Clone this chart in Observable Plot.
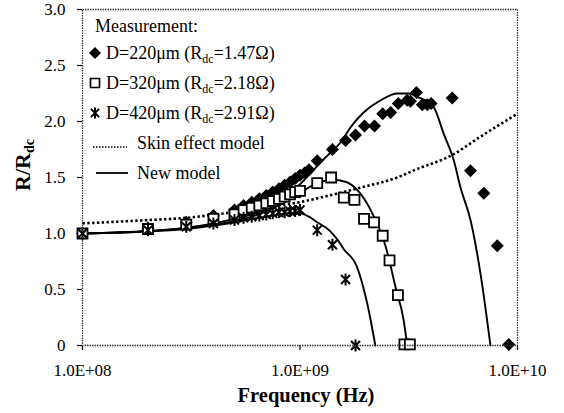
<!DOCTYPE html>
<html><head><meta charset="utf-8">
<script src="https://cdn.jsdelivr.net/npm/d3@7"></script>
<script src="https://cdn.jsdelivr.net/npm/@observablehq/plot@0.6"></script>
<style>
body{margin:0;background:#fff;}
#wrap{position:relative;width:564px;height:413px;}
</style></head><body><div id="wrap"></div>
<script>
// ---- Measurement data ----
const f220 = [1e8,2e8,3e8,4e8,5e8,5.5e8,6e8,6.5e8,7e8,7.5e8,8e8,8.5e8,9e8,9.5e8,1e9,1.05e9,1.1e9,1.2e9,1.41e9,1.62e9,1.8e9,1.98e9,2.2e9,2.4e9,2.61e9,2.83e9,3.11e9,3.22e9,3.43e9,3.65e9,3.85e9,4.01e9,5.01e9,6.08e9,7.0e9,8.07e9,9.12e9];
const r220 = [1.00,1.05,1.10,1.16,1.21,1.25,1.28,1.31,1.34,1.37,1.40,1.43,1.46,1.49,1.52,1.54,1.57,1.65,1.75,1.83,1.88,1.96,1.96,2.07,2.08,2.16,2.19,2.18,2.26,2.15,2.15,2.16,2.21,1.56,1.36,0.89,0.01];
const f320 = [1e8,2e8,3e8,4e8,5e8,5.5e8,6e8,6.5e8,7e8,7.5e8,8e8,8.5e8,9e8,9.5e8,1e9,1.2e9,1.39e9,1.59e9,1.78e9,1.97e9,2.19e9,2.4e9,2.58e9,2.82e9,3.02e9,3.2e9];
const r320 = [1.00,1.04,1.08,1.13,1.17,1.21,1.23,1.25,1.27,1.29,1.31,1.33,1.35,1.37,1.38,1.45,1.50,1.32,1.30,1.13,1.10,0.98,0.76,0.45,0.01,0.01];
const f420 = [1e8,2e8,3e8,4e8,5e8,5.5e8,6e8,6.5e8,7e8,7.5e8,8e8,8.5e8,9e8,9.5e8,1e9,1.2e9,1.41e9,1.62e9,1.8e9];
const r420 = [1.00,1.03,1.06,1.09,1.12,1.14,1.15,1.16,1.17,1.18,1.19,1.19,1.20,1.20,1.21,1.03,0.90,0.59,0.00];
// ---- Model curves ----
const fm220 = [1e8,2e8,3e8,4e8,5e8,6e8,7e8,8e8,9e8,1e9,1.12e9,1.28e9,1.56e9,1.71e9,1.96e9,2.35e9,2.8e9,3.16e9,3.46e9,4.11e9,4.58e9,5.1e9,5.47e9,6.08e9,6.76e9,7.51e9];
const rm220 = [1.00,1.02,1.05,1.09,1.13,1.17,1.22,1.29,1.37,1.44,1.54,1.66,1.83,1.95,2.08,2.19,2.25,2.25,2.22,2.13,1.89,1.65,1.41,1.12,0.64,0.00];
const fm320 = [1e8,2e8,3e8,4e8,5e8,6e8,7e8,8e8,9e8,1e9,1.12e9,1.25e9,1.4e9,1.63e9,1.85e9,2.15e9,2.48e9,2.75e9,3.0e9,3.11e9];
const rm320 = [1.00,1.02,1.05,1.08,1.11,1.15,1.20,1.25,1.31,1.36,1.42,1.46,1.48,1.46,1.38,1.18,0.88,0.52,0.22,0.00];
const fm420 = [1e8,2e8,3e8,4e8,5e8,6e8,7e8,8e8,9e8,1e9,1.1e9,1.2e9,1.36e9,1.48e9,1.59e9,1.83e9,2.04e9,2.22e9];
const rm420 = [1.00,1.02,1.04,1.07,1.10,1.13,1.15,1.17,1.18,1.18,1.15,1.10,1.03,0.95,0.86,0.70,0.37,0.00];
const fSkin = [1e8,2e8,3e8,4.5e8,6.5e8,8e8,1e9,1.3e9,1.9e9,2.8e9,3.4e9,5e9,6.7e9,1e10];
const rSkin = [1.09,1.12,1.14,1.18,1.22,1.25,1.28,1.33,1.41,1.50,1.57,1.70,1.86,2.07];
// ---- Ticks & labels ----
const xTicks = [1e8,1e9,1e10];
const yTicks = [0,0.5,1,1.5,2,2.5,3];
const legendLabels = [
  ["D=220μm (R","dc","=1.47Ω)"],
  ["D=320μm (R","dc","=2.18Ω)"],
  ["D=420μm (R","dc","=2.91Ω)"]
];
const lineLabels = ["Skin effect model","New model"];

const zip = (fs, rs, s) => fs.map((f,i)=>({f, r: rs[i], s}));
const d220 = zip(f220, r220), d320 = zip(f320, r320), d420 = zip(f420, r420);
const models = [...zip(fm220, rm220, "220"), ...zip(fm320, rm320, "320"), ...zip(fm420, rm420, "420")];
const skin = zip(fSkin, rSkin);

const rad = size => Math.sqrt(size/Math.PI);
const diamond = {draw(c, size){const r=rad(size); c.moveTo(0,-r); c.lineTo(r,0); c.lineTo(0,r); c.lineTo(-r,0); c.closePath();}};
const square = {draw(c, size){const r=rad(size); c.rect(-r,-r,2*r,2*r);}};
const star = {draw(c, size){const r=rad(size), a=r*0.75; c.moveTo(0,-r); c.lineTo(0,r); c.moveTo(-a,-a); c.lineTo(a,a); c.moveTo(-a,a); c.lineTo(a,-a);}};

const FONT = "'Liberation Serif','Times New Roman',serif";
const chart = Plot.plot({
  width: 564, height: 413,
  marginLeft: 82, marginRight: 47, marginTop: 9, marginBottom: 68,
  x: {type: "log", domain: [1e8, 1e10]},
  y: {domain: [0, 3]},
  style: {fontFamily: FONT, fontSize: "17px", color: "#000", background: "#fff"},
  marks: [
    Plot.axisY({ticks: yTicks, tickFormat: d => d === 0 ? "0" : d.toFixed(1), tickSize: 5, tickPadding: 12, label: null, strokeWidth: 1.2}),
    Plot.axisX({ticks: xTicks, tickFormat: d => "1.0E+" + String(Math.round(Math.log10(d))).padStart(2, "0"), tickSize: 5, tickPadding: 13, label: null, strokeWidth: 1.2}),
    Plot.line(skin, {x: "f", y: "r", stroke: "#000", strokeWidth: 2.6, strokeDasharray: "2.4,2.4", strokeLinecap: "butt", curve: "monotone-x"}),
    Plot.line(models, {x: "f", y: "r", z: "s", stroke: "#000", strokeWidth: 1.9, curve: "monotone-x"}),
    Plot.dot(d220, {x: "f", y: "r", symbol: diamond, r: 6.5, fill: "#000", stroke: "none"}),
    Plot.dot(d320, {x: "f", y: "r", symbol: square, r: 5, fill: "#fff", stroke: "#000", strokeWidth: 1.8}),
    Plot.dot(d420, {x: "f", y: "r", symbol: star, r: 6, fill: "none", stroke: "#000", strokeWidth: 2}),
    Plot.frame({stroke: "#333", strokeWidth: 1.3, strokeDasharray: "1.5,1"})
  ]
});
document.getElementById("wrap").appendChild(chart);

const svg = d3.select(chart);
// axis titles
const yt = svg.append("text").attr("transform", "translate(30,165) rotate(-90)")
  .attr("text-anchor", "middle").attr("font-family", FONT).attr("font-weight", "bold").attr("font-size", 22).attr("fill", "#000");
yt.append("tspan").text("R/R");
yt.append("tspan").attr("font-size", 14).attr("dy", 4).text("dc");
svg.append("text").attr("x", 306).attr("y", 402).attr("text-anchor", "middle")
  .attr("font-family", FONT).attr("font-weight", "bold").attr("font-size", 20.5).attr("fill", "#000").text("Frequency (Hz)");

// legend
const lg = svg.append("g").attr("font-family", FONT).attr("font-size", 18).attr("fill", "#000").attr("text-anchor", "start");
lg.append("text").attr("x", 95).attr("y", 32).text("Measurement:");
const syms = [[diamond, 6, "#000", "none", 0], [square, 4.5, "#fff", "#000", 1.7], [star, 5.5, "none", "#000", 2]];
const rowsY = [53, 83, 113];
legendLabels.forEach((parts, i) => {
  const [sym, r, fill, stroke, sw] = syms[i];
  lg.append("path").attr("transform", `translate(95,${rowsY[i]})`)
    .attr("d", d3.symbol().type(sym).size(Math.PI * r * r)()).attr("fill", fill).attr("stroke", stroke).attr("stroke-width", sw);
  const t = lg.append("text").attr("x", 106).attr("y", rowsY[i] + 6);
  t.append("tspan").text(parts[0]);
  t.append("tspan").attr("font-size", 12).attr("dy", 4).text(parts[1]);
  t.append("tspan").attr("font-size", 18).attr("dy", -4).text(parts[2]);
});
lg.append("line").attr("x1", 93).attr("x2", 127).attr("y1", 147).attr("y2", 147).attr("stroke", "#000").attr("stroke-width", 1.6).attr("stroke-dasharray", "1.5,1.5");
lg.append("text").attr("x", 137).attr("y", 149).text(lineLabels[0]);
lg.append("line").attr("x1", 96).attr("x2", 128).attr("y1", 173).attr("y2", 173).attr("stroke", "#000").attr("stroke-width", 1.8);
lg.append("text").attr("x", 137).attr("y", 179).text(lineLabels[1]);
</script></body></html>
